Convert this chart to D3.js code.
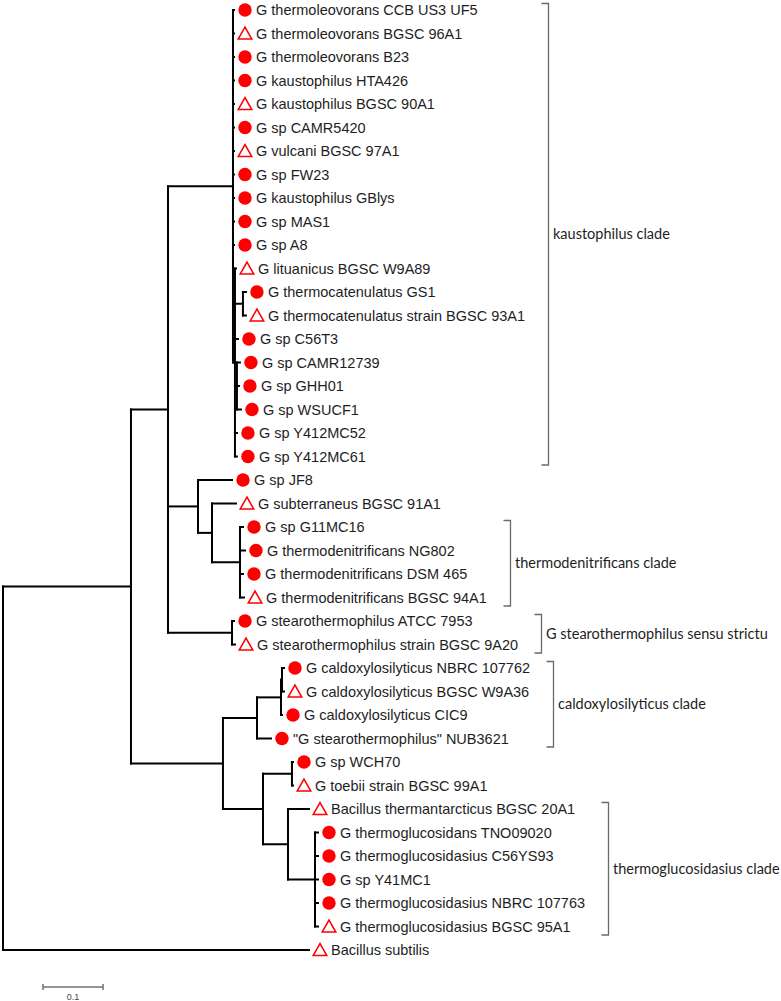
<!DOCTYPE html>
<html>
<head>
<meta charset="utf-8">
<script src="https://cdn.jsdelivr.net/npm/d3@7/dist/d3.min.js"></script>
<style>
  html, body { margin: 0; padding: 0; background: #fff; }
  svg { display: block; }
</style>
</head>
<body>
<svg id="chart" width="781" height="1001"></svg>
<script>
// ---------- DATA ----------
const leafNames = [
  "G thermoleovorans CCB US3 UF5",
  "G thermoleovorans BGSC 96A1",
  "G thermoleovorans B23",
  "G kaustophilus HTA426",
  "G kaustophilus BGSC 90A1",
  "G sp CAMR5420",
  "G vulcani BGSC 97A1",
  "G sp FW23",
  "G kaustophilus GBlys",
  "G sp MAS1",
  "G sp A8",
  "G lituanicus BGSC W9A89",
  "G thermocatenulatus GS1",
  "G thermocatenulatus strain BGSC 93A1",
  "G sp C56T3",
  "G sp CAMR12739",
  "G sp GHH01",
  "G sp WSUCF1",
  "G sp Y412MC52",
  "G sp Y412MC61",
  "G sp JF8",
  "G subterraneus BGSC 91A1",
  "G sp G11MC16",
  "G thermodenitrificans NG802",
  "G thermodenitrificans DSM 465",
  "G thermodenitrificans BGSC 94A1",
  "G stearothermophilus ATCC 7953",
  "G stearothermophilus strain BGSC 9A20",
  "G caldoxylosilyticus NBRC 107762",
  "G caldoxylosilyticus BGSC W9A36",
  "G caldoxylosilyticus CIC9",
  "\"G stearothermophilus\" NUB3621",
  "G sp WCH70",
  "G toebii strain BGSC 99A1",
  "Bacillus thermantarcticus BGSC 20A1",
  "G thermoglucosidans TNO09020",
  "G thermoglucosidasius C56YS93",
  "G sp Y41MC1",
  "G thermoglucosidasius NBRC 107763",
  "G thermoglucosidasius BGSC 95A1",
  "Bacillus subtilis"
];

// "c" = filled circle, "t" = open triangle
const leafMarkers = [
  "c","t","c","c","t","c","t","c","c","c",
  "c","t","c","t","c","c","c","c","c","c",
  "c","t","c","c","c","t","c","t","c","t",
  "c","c","c","t","t","c","c","c","c","t",
  "t"
];

// Tree topology with branch lengths; leaves are indices into leafNames
const kaustophilusNewick =
  "(0:0.0017,1:0.0017,2:0.0017,3:0.0017,4:0.0017,5:0.0017,6:0.0017,7:0.0017,8:0.0017,9:0.0017,10:0.0017," +
  "(11:0.0017,(12:0.005,13:0.005):0.0133,14:0.005,(15:0.005,16:0.0033,17:0.0067):0.0033,18:0.0033,19:0.0033):0.0033):0.1083";
const thermodenitNewick = "(20:0.0567,(21:0.04,(22:0.005,23:0.0083,24:0.005,25:0.0067):0.0467):0.0233):0.05";
const stearoNewick = "(26:0.0033,27:0.005):0.1067";
const caldoNewick = "(((28:0.0033,29:0.0033):0.0017,30:0.0017):0.04,31:0.0233):0.0567";
const glucoNewick = "((32:0.0017,33:0.0017):0.0483,(34:0.035,(35:0.005,36:0.005,37:0.005,38:0.005,39:0.005):0.045):0.0417):0.0667";
const treeNewick =
  "(((" + kaustophilusNewick + "," + thermodenitNewick + "," + stearoNewick + "):0.0617,(" +
  caldoNewick + "," + glucoNewick + "):0.1533):0.2133,40:0.51);";

const cladeNames = [
  "kaustophilus clade",
  "thermodenitrificans clade",
  "G stearothermophilus sensu strictu",
  "caldoxylosilyticus clade",
  "thermoglucosidasius clade"
];
const cladeFirstLeaf = [0, 22, 26, 28, 34];
const cladeLastLeaf  = [19, 25, 27, 31, 39];

const scaleBarValue = 0.1;
const scaleBarLabel = "0.1";

// ---------- PARSE ----------
function parseNewick(s) {
  let i = 0;
  function node() {
    const n = { name: "", length: 0, children: null };
    if (s[i] === "(") {
      i++;
      n.children = [];
      do { n.children.push(node()); } while (s[i++] === ",");
    }
    let name = "";
    while (i < s.length && !",():;".includes(s[i])) name += s[i++];
    n.name = name;
    if (s[i] === ":") {
      i++;
      let len = "";
      while (i < s.length && !",();".includes(s[i])) len += s[i++];
      n.length = +len;
    }
    return n;
  }
  return node();
}

const root = d3.hierarchy(parseNewick(treeNewick), d => d.children);
root.eachBefore(d => { d.dist = d.parent ? d.parent.dist + d.data.length : 0; });

// ---------- SCALES ----------
const x = d3.scaleLinear().domain([0, 1]).range([3, 603]);
const y = d3.scaleLinear().domain([0, leafNames.length - 1]).range([10, 950]);

root.eachAfter(d => {
  if (d.children) {
    d.py = (d.children[0].py + d.children[d.children.length - 1].py) / 2;
  } else {
    d.py = y(+d.data.name);
  }
  d.px = x(d.dist);
});

const svg = d3.select("#chart");
svg.append("rect").attr("width", 781).attr("height", 1001).attr("fill", "#fff");

const gTree = svg.append("g")
  .attr("fill", "none").attr("stroke", "#000").attr("stroke-width", 2)
  .attr("stroke-linecap", "square");

gTree.selectAll("path.h")
  .data(root.descendants().filter(d => d.parent))
  .join("path").attr("class", "h")
  .attr("d", d => `M${d.parent.px},${d.py}H${d.px}`);

gTree.selectAll("path.v")
  .data(root.descendants().filter(d => d.children))
  .join("path").attr("class", "v")
  .attr("d", d => `M${d.px},${d.children[0].py}V${d.children[d.children.length - 1].py}`);

const leaves = root.leaves();
const gLeaf = svg.append("g");
const red = "#ff0000";
leaves.forEach(d => {
  const idx = +d.data.name;
  const cx = d.px + 11, cy = d.py;
  if (leafMarkers[idx] === "c") {
    gLeaf.append("circle").attr("cx", cx).attr("cy", cy).attr("r", 6.7).attr("fill", red);
  } else {
    gLeaf.append("path")
      .attr("d", `M${cx - 6.8},${cy + 5.6}L${cx + 6.8},${cy + 5.6}L${cx},${cy - 6.4}Z`)
      .attr("fill", "#fff").attr("stroke", red).attr("stroke-width", 1.5);
  }
  d.label = gLeaf.append("text")
    .attr("x", d.px + 22).attr("y", cy).attr("dy", "0.35em")
    .attr("font-family", "'Liberation Sans', Arial, sans-serif")
    .attr("font-size", 14.5).attr("fill", "#1e1e1e")
    .text(leafNames[idx]);
});

const leafByIdx = {};
leaves.forEach(d => { leafByIdx[+d.data.name] = d; });
const gClade = svg.append("g");
cladeNames.forEach((name, k) => {
  let maxEnd = 0;
  for (let i = cladeFirstLeaf[k]; i <= cladeLastLeaf[k]; i++) {
    const l = leafByIdx[i];
    const end = l.px + 22 + l.label.node().getComputedTextLength();
    if (end > maxEnd) maxEnd = end;
  }
  const bx = Math.round(maxEnd + 23) + 0.5;
  const y0 = y(cladeFirstLeaf[k]) - 6.5;
  const y1 = y(cladeLastLeaf[k]) + 8.5;
  gClade.append("path")
    .attr("d", `M${bx - 7},${y0}H${bx}V${y1}H${bx - 7}`)
    .attr("fill", "none").attr("stroke", "#6a6a6a").attr("stroke-width", 1.3);
  gClade.append("text")
    .attr("x", bx + 4.5).attr("y", (y0 + y1) / 2).attr("dy", "0.35em")
    .attr("font-family", "Lato, 'Open Sans', sans-serif")
    .attr("font-size", 14.5).attr("fill", "#1e1e1e")
    .text(name);
});

const barX0 = 43, barY = 987;
const barLen = x(scaleBarValue) - x(0);
const gBar = svg.append("g").attr("stroke", "#707070").attr("stroke-width", 1.5).attr("fill", "none");
gBar.append("path").attr("d", `M${barX0},${barY}H${barX0 + barLen}`);
gBar.append("path").attr("d", `M${barX0},${barY - 3}V${barY + 3}M${barX0 + barLen},${barY - 3}V${barY + 3}`);
svg.append("text")
  .attr("x", barX0 + barLen / 2).attr("y", 1000)
  .attr("text-anchor", "middle")
  .attr("font-family", "'Liberation Sans', Arial, sans-serif")
  .attr("font-size", 9).attr("fill", "#444")
  .text(scaleBarLabel);
</script>
</body>
</html>
